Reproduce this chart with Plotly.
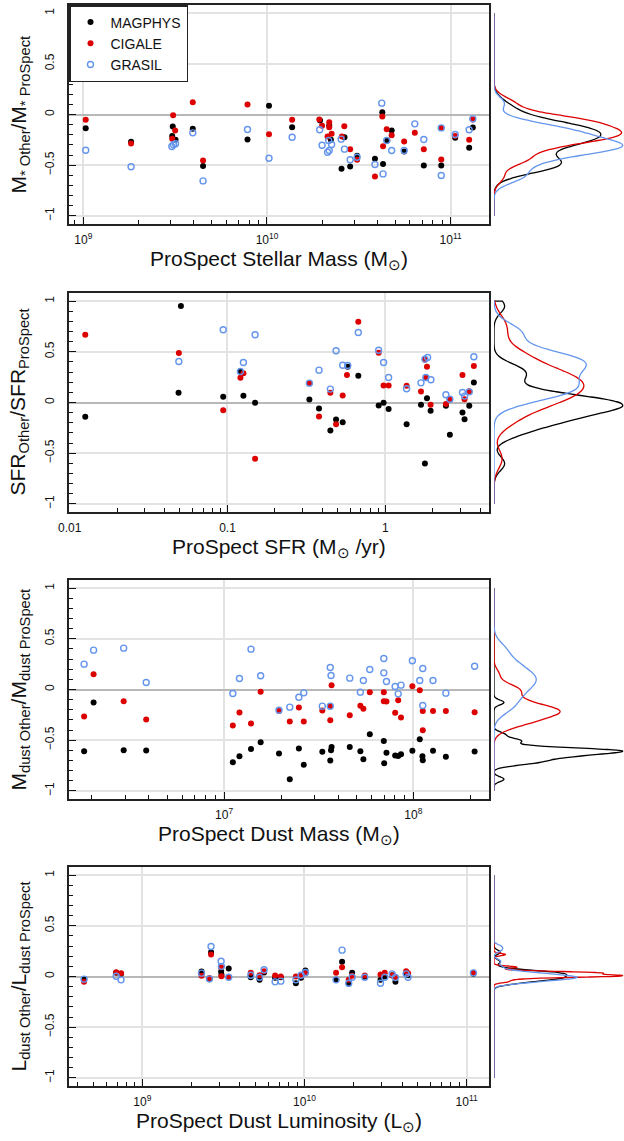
import numpy as np
import plotly.graph_objects as go

# ---------------- DATA ----------------
series_names = ["MAGPHYS", "CIGALE", "GRASIL"]

# Panel 1: stellar mass (log10 Msun) vs log ratio
p1_x_magphys = [9.013, 9.260, 9.487, 9.484, 9.502, 9.596, 9.652, 9.894, 10.011, 10.137, 10.289, 10.339, 10.348, 10.406,
                10.422, 10.453, 10.491, 10.588, 10.628, 10.632, 10.655, 10.679, 10.747, 10.854, 10.949, 11.025, 11.101, 11.121]
p1_y_magphys = [-0.135, -0.270, -0.118, -0.211, -0.250, -0.141, -0.507, -0.247, 0.086, -0.125, -0.059, -0.109, -0.250, -0.536,
                -0.224, -0.513, -0.408, -0.437, 0.023, -0.487, -0.257, -0.158, -0.365, -0.503, -0.503, -0.230, -0.329, -0.128]
p1_x_cigale = [9.013, 9.260, 9.489, 9.484, 9.500, 9.596, 9.652, 9.894, 10.011, 10.137, 10.285, 10.300, 10.339, 10.339, 10.352,
               10.330, 10.421, 10.408, 10.453, 10.491, 10.588, 10.628, 10.632, 10.652, 10.679, 10.747, 10.805, 10.854, 10.949,
               10.949, 11.025, 11.101, 11.121]
p1_y_cigale = [-0.053, -0.286, -0.007, -0.240, -0.158, 0.122, -0.454, 0.099, -0.194, -0.053, -0.049, -0.112, -0.076, -0.125,
               -0.191, -0.217, -0.115, -0.217, -0.342, -0.447, -0.612, -0.020, -0.313, -0.145, -0.204, -0.266, -0.181, -0.342,
               -0.444, -0.132, -0.211, -0.250, -0.049]
p1_x_grasil = [9.013, 9.260, 9.482, 9.491, 9.502, 9.596, 9.652, 9.894, 10.011, 10.137, 10.287, 10.300, 10.330, 10.339, 10.336,
               10.352, 10.404, 10.422, 10.453, 10.491, 10.588, 10.625, 10.632, 10.652, 10.679, 10.747, 10.805, 10.854, 10.949,
               10.949, 11.025, 11.101, 11.121]
p1_y_grasil = [-0.352, -0.516, -0.316, -0.299, -0.289, -0.181, -0.655, -0.148, -0.431, -0.224, -0.151, -0.303, -0.372, -0.355,
               -0.257, -0.296, -0.243, -0.342, -0.447, -0.421, -0.493, 0.112, -0.586, -0.257, -0.355, -0.355, -0.092, -0.247,
               -0.602, -0.132, -0.197, -0.151, -0.043]

# Panel 2: SFR (log10 Msun/yr)
p2_x_magphys = [-1.901, -1.295, -1.310, -1.027, -0.918, -0.899, -0.825, -0.481, -0.420, -0.348, -0.312, -0.270, -0.238, -0.171,
                -0.042, -0.011, 0.021, 0.135, 0.226, 0.264, 0.251, 0.287, 0.384, 0.409, 0.489, 0.502, 0.532, 0.561]
p2_y_magphys = [-0.141, 0.951, 0.095, 0.056, 0.306, 0.066, -0.003, 0.030, -0.059, -0.276, -0.168, -0.194, 0.352, 0.263,
                -0.030, -0.003, -0.063, -0.214, -0.023, 0.043, -0.602, -0.082, -0.033, -0.319, -0.099, -0.164, -0.033, 0.197]
p2_x_cigale = [-1.901, -1.308, -1.027, -0.918, -0.899, -0.825, -0.481, -0.420, -0.348, -0.312, -0.270, -0.243, -0.171, -0.042,
               -0.011, 0.021, 0.135, 0.226, 0.251, 0.264, 0.257, 0.287, 0.384, 0.409, 0.489, 0.502, 0.532, 0.561]
p2_y_cigale = [0.668, 0.487, -0.076, 0.243, 0.289, -0.556, 0.191, -0.138, 0.095, -0.214, 0.069, 0.270, 0.796, 0.490,
               0.168, 0.168, 0.164, 0.109, 0.421, 0.352, 0.247, -0.023, -0.016, 0.030, 0.270, 0.033, 0.112, 0.359]
p2_x_grasil = [-1.308, -1.027, -0.918, -0.899, -0.825, -0.481, -0.420, -0.348, -0.312, -0.270, -0.238, -0.171, -0.042,
               -0.011, 0.021, 0.135, 0.226, 0.251, 0.268, 0.257, 0.289, 0.384, 0.409, 0.489, 0.502, 0.532, 0.561]
p2_y_grasil = [0.405, 0.717, 0.306, 0.395, 0.668, 0.191, 0.319, 0.132, 0.510, 0.368, 0.365, 0.691, 0.516,
               0.395, 0.247, 0.135, 0.194, 0.428, 0.444, 0.247, 0.224, 0.076, 0.033, 0.099, 0.063, 0.105, 0.451]

# Panel 3: dust mass (log10 Msun)
p3_x_magphys = [6.260, 6.310, 6.469, 6.588, 7.046, 7.081, 7.142, 7.193, 7.290, 7.347, 7.395, 7.421, 7.519, 7.561, 7.565,
                7.568, 7.664, 7.720, 7.736, 7.770, 7.844, 7.846, 7.858, 7.904, 7.920, 7.935, 7.995, 8.034, 8.048, 8.050,
                8.104, 8.172, 8.324]
p3_y_magphys = [-0.609, -0.128, -0.599, -0.602, -0.717, -0.658, -0.586, -0.520, -0.632, -0.885, -0.582, -0.743, -0.615, -0.701,
                -0.599, -0.566, -0.566, -0.609, -0.688, -0.441, -0.507, -0.727, -0.625, -0.651, -0.655, -0.638, -0.605, -0.490,
                -0.658, -0.697, -0.605, -0.664, -0.612]
p3_x_cigale = [6.260, 6.310, 6.469, 6.588, 7.046, 7.081, 7.142, 7.193, 7.290, 7.347, 7.395, 7.421, 7.519, 7.561, 7.561,
               7.568, 7.664, 7.720, 7.736, 7.770, 7.844, 7.844, 7.858, 7.904, 7.920, 7.935, 7.995, 8.034, 8.050, 8.050,
               8.104, 8.172, 8.324]
p3_y_cigale = [-0.266, 0.151, -0.115, -0.296, -0.355, -0.227, -0.336, -0.023, -0.211, -0.316, -0.178, -0.316, -0.207, -0.164,
               -0.303, 0.043, -0.253, -0.161, -0.191, -0.026, -0.026, -0.115, -0.118, -0.230, -0.105, -0.276, 0.033, -0.007,
               -0.211, -0.401, -0.211, -0.211, -0.224]
p3_x_grasil = [6.260, 6.310, 6.469, 6.588, 7.046, 7.081, 7.142, 7.193, 7.290, 7.347, 7.395, 7.421, 7.519, 7.561, 7.565,
               7.561, 7.664, 7.720, 7.736, 7.770, 7.844, 7.844, 7.858, 7.904, 7.920, 7.935, 7.995, 8.034, 8.050, 8.050,
               8.104, 8.172, 8.324]
p3_y_grasil = [0.250, 0.388, 0.408, 0.069, -0.039, 0.109, 0.398, 0.135, -0.204, -0.174, -0.076, -0.033, -0.164, 0.217,
               0.138, -0.164, 0.112, -0.026, 0.089, 0.197, 0.306, 0.164, 0.079, 0.030, -0.043, 0.043, 0.283, 0.089,
               0.207, -0.158, 0.089, -0.036, 0.230]

# Panel 4: dust luminosity (log10 Lsun)
p4_x = [8.641, 8.839, 8.869, 9.365, 9.414, 9.424, 9.486, 9.488, 9.533, 9.669, 9.723, 9.751, 9.819, 9.854, 9.947, 9.979,
        10.006, 10.195, 10.232, 10.273, 10.294, 10.372, 10.469, 10.495, 10.541, 10.561, 10.627, 10.639, 11.042]
p4_y_magphys = [-0.030, 0.036, 0.026, 0.049, -0.026, 0.240, 0.049, 0.020, 0.079, -0.007, -0.033, 0.039, -0.013, -0.007,
                -0.066, -0.013, 0.059, -0.033, 0.145, -0.072, 0.036, -0.003, -0.033, 0.000, 0.013, -0.053, 0.033, 0.013, 0.026]
p4_y_cigale = [-0.053, 0.043, 0.033, 0.007, -0.016, 0.217, 0.092, 0.003, -0.007, 0.036, 0.013, 0.053, 0.010, 0.000,
               0.000, 0.013, 0.033, 0.036, 0.092, -0.033, 0.007, 0.010, 0.020, 0.036, 0.010, -0.007, 0.053, 0.033, 0.036]
p4_y_grasil = [-0.026, 0.003, -0.033, 0.033, -0.023, 0.296, 0.151, 0.100, -0.007, 0.013, -0.007, 0.066, -0.053, -0.046,
               -0.033, 0.013, 0.039, -0.033, 0.260, -0.066, -0.007, -0.007, -0.066, -0.007, 0.026, -0.010, 0.026, -0.007, 0.036]

x_titles = ["ProSpect Stellar Mass (M<sub>⊙</sub>)", "ProSpect SFR (M<sub>⊙</sub> /yr)",
            "ProSpect Dust Mass (M<sub>⊙</sub>)", "ProSpect Dust Luminosity (L<sub>⊙</sub>)"]
y_titles = ["M<sub>* Other</sub>/M<sub>* ProSpect</sub>", "SFR<sub>Other</sub>/SFR<sub>ProSpect</sub>",
            "M<sub>dust Other</sub>/M<sub>dust ProSpect</sub>", "L<sub>dust Other</sub>/L<sub>dust ProSpect</sub>"]
x_tickvals = [[1e9, 1e10, 1e11], [0.01, 0.1, 1], [1e7, 1e8], [1e9, 1e10, 1e11]]
x_ticktext = [["10<sup>9</sup>", "10<sup>10</sup>", "10<sup>11</sup>"], ["0.01", "0.1", "1"],
              ["10<sup>7</sup>", "10<sup>8</sup>"], ["10<sup>9</sup>", "10<sup>10</sup>", "10<sup>11</sup>"]]
x_ranges = [[8.922, 11.209], [-2.004, 0.657], [6.18, 8.40], [8.548, 11.138]]
x_decades = [(8, 11), (-3, 0), (6, 8), (8, 11)]
density_spans = [[-1.0, 1.0], [-1.0, 1.0], [-1.0, 1.0], [-1.0, 1.0]]

panels = [
    ([p1_x_magphys, p1_x_cigale, p1_x_grasil], [p1_y_magphys, p1_y_cigale, p1_y_grasil]),
    ([p2_x_magphys, p2_x_cigale, p2_x_grasil], [p2_y_magphys, p2_y_cigale, p2_y_grasil]),
    ([p3_x_magphys, p3_x_cigale, p3_x_grasil], [p3_y_magphys, p3_y_cigale, p3_y_grasil]),
    ([p4_x, p4_x, p4_x], [p4_y_magphys, p4_y_cigale, p4_y_grasil]),
]

# ---------------- STYLE ----------------
W, H = 624, 1141
FONT = "Liberation Sans, Arial, Helvetica, sans-serif"
colors = ["#000000", "#dd0000", "#6495ed"]
panel_tops = [5, 293, 580, 867]
panel_h = 219
main_dom = [69 / W, 489 / W]
side_dom = [494 / W, 1.0]
YR = [-1.08, 1.08]
SIDE_RANGE = [0, 0.505]


def nrd0(v):
    v = np.asarray(v, float)
    sd = v.std(ddof=1)
    q75, q25 = np.percentile(v, [75, 25])
    lo = min(sd, (q75 - q25) / 1.34) if q75 > q25 else sd
    return 0.9 * lo * len(v) ** -0.2


fig = go.Figure()
annotations = []
layout = {}

for i, (xs, ys) in enumerate(panels):
    n_main = 2 * i + 1
    n_side = 2 * i + 2
    xm = "x" if n_main == 1 else f"x{n_main}"
    ym = "y" if n_main == 1 else f"y{n_main}"
    xs_ = f"x{n_side}"
    ys_ = f"y{n_side}"
    top = panel_tops[i]
    dom_y = [1 - (top + panel_h) / H, 1 - top / H]

    for k in range(3):
        if k < 2:
            marker = dict(color=colors[k], size=6, symbol="circle", line=dict(width=0))
        else:
            marker = dict(color=colors[k], size=6, symbol="circle-open", line=dict(width=1.4, color=colors[k]))
        fig.add_trace(go.Scatter(
            x=10 ** np.asarray(xs[k]), y=ys[k], mode="markers", marker=marker,
            name=series_names[k], legendgroup=series_names[k], showlegend=(i == 0),
            xaxis=xm, yaxis=ym, hoverinfo="skip"))

    for k in range(3):
        fig.add_trace(go.Violin(
            y=ys[k], x0=0, orientation="v", side="positive",
            bandwidth=nrd0(ys[k]), spanmode="manual", span=density_spans[i],
            scalemode="width", scalegroup=f"p{i}", points=False,
            box=dict(visible=False), meanline=dict(visible=False),
            fillcolor="rgba(0,0,0,0)", line=dict(color=colors[k], width=1.3),
            name=f"{series_names[k]} density {i}",
            showlegend=False, xaxis=xs_, yaxis=ys_, hoverinfo="skip"))

    lo, hi = x_decades[i]
    minor_vals = [m * 10.0 ** d for d in range(lo, hi + 1) for m in range(2, 10)]
    kx = "xaxis" if n_main == 1 else f"xaxis{n_main}"
    ky = "yaxis" if n_main == 1 else f"yaxis{n_main}"
    layout[kx] = dict(
        domain=main_dom, anchor=ym, type="log", range=x_ranges[i], automargin=False,
        tickmode="array", tickvals=x_tickvals[i], ticktext=x_ticktext[i],
        ticks="inside", ticklen=7, tickwidth=1, tickcolor="#111",
        minor=dict(tickmode="array", tickvals=minor_vals, ticks="inside", ticklen=4,
                   tickwidth=1, tickcolor="#111", showgrid=False),
        showgrid=True, gridcolor="#e3e3e3", gridwidth=1.5,
        showline=True, mirror=True, linecolor="#222", linewidth=1.6,
        tickfont=dict(family=FONT, size=12, color="#111"), ticklabelstandoff=4,
        zeroline=False)
    layout[ky] = dict(
        domain=dom_y, anchor=xm, range=YR, tickmode="linear", tick0=0, dtick=0.5, automargin=False,
        ticks="inside", ticklen=7, tickwidth=1, tickcolor="#111", tickangle=-90,
        minor=dict(tickmode="linear", tick0=0, dtick=0.1, ticks="inside", ticklen=4,
                   tickwidth=1, tickcolor="#111", showgrid=False),
        showgrid=True, gridcolor="#e3e3e3", gridwidth=1.5,
        zeroline=True, zerolinecolor="#b8b8b8", zerolinewidth=2,
        showline=True, mirror=True, linecolor="#222", linewidth=1.6,
        tickfont=dict(family=FONT, size=12, color="#111"), ticklabelstandoff=8)
    layout[f"xaxis{n_side}"] = dict(domain=side_dom, anchor=ys_, range=SIDE_RANGE, type="linear",
                                    visible=False, fixedrange=True, automargin=False)
    layout[f"yaxis{n_side}"] = dict(domain=dom_y, anchor=xs_, range=YR, visible=False, fixedrange=True,
                                    automargin=False)

    annotations.append(dict(
        text=x_titles[i], xref="paper", yref="paper",
        x=(main_dom[0] + main_dom[1]) / 2, y=1 - (top + panel_h + 36) / H,
        xanchor="center", yanchor="middle", showarrow=False,
        font=dict(family=FONT, size=21, color="#111")))
    annotations.append(dict(
        text=y_titles[i], xref="paper", yref="paper", textangle=-90,
        x=19 / W, y=1 - (top + panel_h / 2) / H,
        xanchor="center", yanchor="middle", showarrow=False,
        font=dict(family=FONT, size=21, color="#111")))

fig.update_layout(
    template="none",
    width=W, height=H, margin=dict(l=0, r=0, t=0, b=0, pad=0, autoexpand=False),
    paper_bgcolor="white", plot_bgcolor="white",
    font=dict(family=FONT, color="#111"),
    showlegend=True,
    legend=dict(x=69 / W, y=1 - 5 / H, xanchor="left", yanchor="top", xref="paper", yref="paper",
                bgcolor="white", bordercolor="#222", borderwidth=1.5,
                font=dict(family=FONT, size=14, color="#111"), itemwidth=30,
                tracegroupgap=0),
    annotations=annotations,
    violingap=0, violingroupgap=0, violinmode="overlay",
    **layout)

fig.write_html("out.html", config={"displayModeBar": False},
               post_script="document.body.style.margin='0px';document.body.style.overflow='hidden';")
